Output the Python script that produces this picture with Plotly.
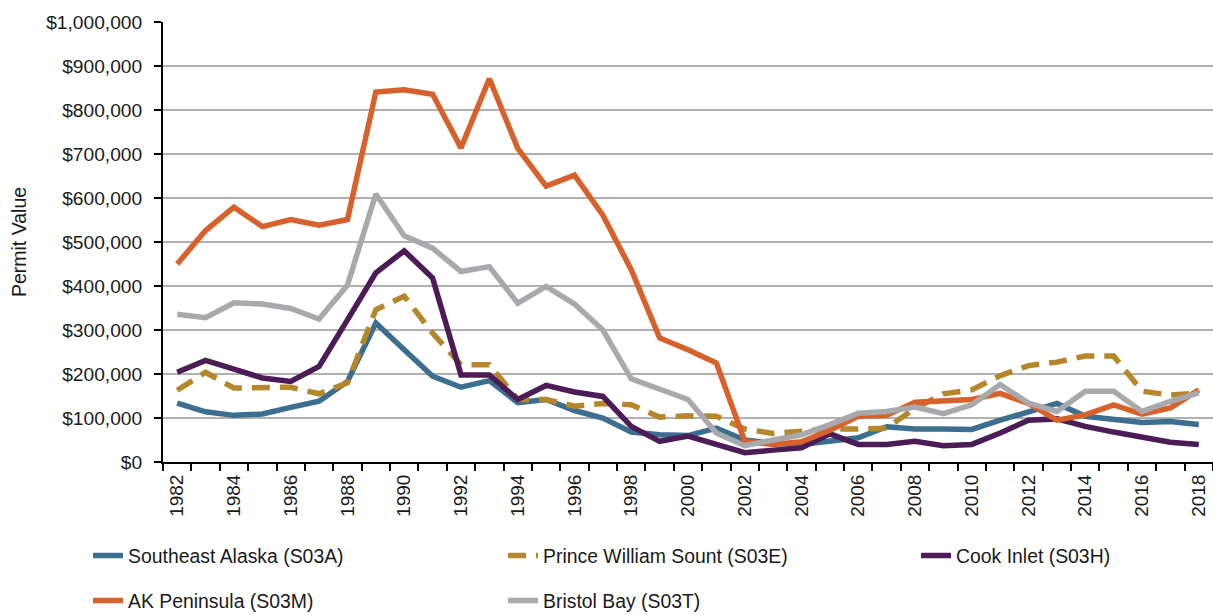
import plotly.graph_objects as go

years = list(range(1982, 2019))

southeast_alaska = [134, 114, 106, 109, 124, 138, 183, 316, 255, 195, 170, 185, 135, 142, 117,
                    100, 68, 62, 60, 77, 50, 42, 40, 47, 55, 80, 75, 75, 74, 95, 115, 133, 104,
                    96, 90, 92, 85]
prince_william = [163, 204, 168, 170, 170, 155, 180, 346, 377, 293, 221, 221, 142, 142, 127,
                  133, 130, 102, 105, 104, 75, 65, 70, 75, 75, 77, 122, 155, 164, 196, 219, 227,
                  241, 241, 161, 152, 157]
cook_inlet = [204, 231, 211, 191, 183, 217, 323, 430, 480, 418, 198, 198, 142, 174, 159, 149,
              81, 47, 59, 40, 21, 27, 32, 64, 40, 40, 47, 37, 40, 66, 95, 98, 81, 68, 56, 45, 40]
ak_peninsula = [450, 526, 579, 535, 551, 538, 551, 841, 846, 836, 714, 871, 713, 627, 652, 561,
                437, 282, 255, 225, 47, 40, 46, 72, 104, 106, 136, 138, 142, 156, 133, 95, 107,
                130, 109, 123, 164]
bristol_bay = [336, 328, 362, 359, 349, 325, 402, 609, 514, 486, 433, 444, 361, 399, 359, 300,
               189, 164, 142, 66, 37, 50, 62, 85, 111, 115, 125, 110, 130, 176, 134, 115, 161,
               161, 115, 138, 157]

series_names = ["Southeast Alaska (S03A)", "Prince William Sount (S03E)", "Cook Inlet (S03H)",
                "AK Peninsula (S03M)", "Bristol Bay (S03T)"]
series_values = [southeast_alaska, prince_william, cook_inlet, ak_peninsula, bristol_bay]
colors = ["#3c6e8f", "#b5862a", "#4b1c56", "#d8612b", "#a8a9ac"]
dashes = ["solid", "18px,10px", "solid", "solid", "solid"]

tick_years = list(range(1982, 2019, 2))
boundary_ticks = [y - 0.5 for y in range(1982, 2020)]

FONT = "Liberation Sans, Arial, sans-serif"
TXT = "#1a1a1a"

fig = go.Figure()
legend_ids = ["legend", "legend2", "legend3", "legend4", "legend5"]
for name, vals, col, dash, lg in zip(series_names, series_values, colors, dashes, legend_ids):
    fig.add_trace(go.Scatter(
        x=years, y=[v * 1000 for v in vals], mode="lines", name=name,
        line=dict(color=col, width=5.5, dash=dash),
        legend=lg,
    ))

W, H = 1213, 615
ml, mr, mt, mb = 163, 0, 22, 153
pw, ph = W - ml - mr, H - mt - mb

def px_x(x):
    return (x - ml) / pw

def px_y(y):
    return (H - mb - y) / ph

legend_pos = [(52, 556), (467, 556), (880, 556), (52, 601), (467, 601)]
legend_layout = {}
for lg, (lx, ly) in zip(legend_ids, legend_pos):
    legend_layout[lg] = dict(
        x=px_x(lx + 36), y=px_y(ly), xanchor="left", yanchor="middle",
        orientation="h", bgcolor="rgba(0,0,0,0)", borderwidth=0,
        font=dict(family=FONT, size=19.4, color=TXT),
    )

fig.update_layout(
    width=W, height=H,
    margin=dict(l=ml, r=mr, t=mt, b=mb, autoexpand=False),
    paper_bgcolor="white", plot_bgcolor="white",
    font=dict(family=FONT, size=19, color=TXT),
    showlegend=True,
    **legend_layout,
)

fig.update_xaxes(
    range=[1981.5, 2018.5],
    tickmode="array", tickvals=tick_years, ticktext=[str(y) for y in tick_years],
    tickangle=-90, ticks="", showgrid=False, zeroline=False,
    showline=True, linecolor="black", linewidth=2,
    ticklabelstandoff=3,
    tickfont=dict(family=FONT, size=19, color=TXT),
    minor=dict(tickmode="array", tickvals=boundary_ticks, ticks="outside", ticklen=7,
               tickwidth=1.5, tickcolor="black", showgrid=False),
)
fig.update_yaxes(
    range=[0, 1000000], dtick=100000, tick0=0,
    tickformat="$,.0f", ticks="outside", ticklen=7, tickwidth=1.5, tickcolor="black",
    showgrid=True, gridcolor="#b0b0b0", gridwidth=1.5, zeroline=False,
    showline=True, linecolor="black", linewidth=2,
    ticklabelstandoff=8,
    tickfont=dict(family=FONT, size=19.2, color=TXT),
    title=dict(text="Permit Value", standoff=14, font=dict(family=FONT, size=19.5, color=TXT)),
)

fig.write_html("out.html", config={"displayModeBar": False},
               post_script="document.body.style.margin='0';")
